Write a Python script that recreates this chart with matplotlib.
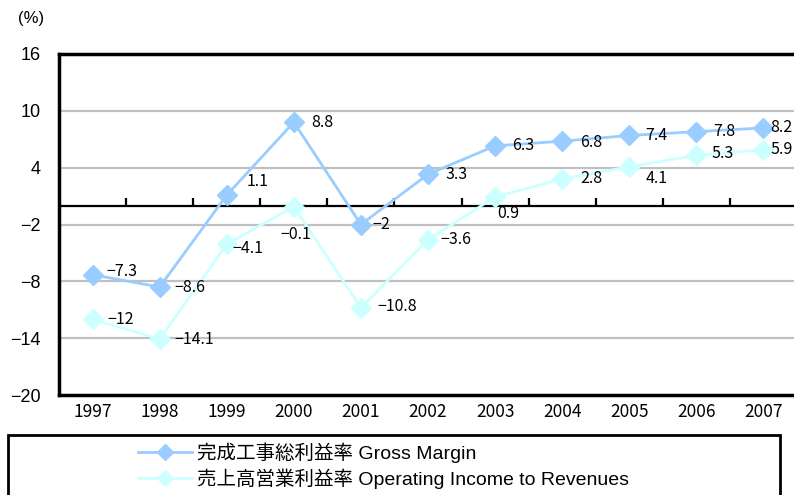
import matplotlib
matplotlib.use("Agg")
import matplotlib.pyplot as plt
from matplotlib.patches import Rectangle
from matplotlib.lines import Line2D

years = ["1997", "1998", "1999", "2000", "2001", "2002", "2003", "2004", "2005", "2006", "2007"]
gross_margin = [-7.3, -8.6, 1.1, 8.8, -2, 3.3, 6.3, 6.8, 7.4, 7.8, 8.2]
operating_income = [-12, -14.1, -4.1, -0.1, -10.8, -3.6, 0.9, 2.8, 4.1, 5.3, 5.9]
gross_label = "完成工事総利益率 Gross Margin"
op_label = "売上高営業利益率 Operating Income to Revenues"
yticks = [16, 10, 4, -2, -8, -14, -20]

# label offsets in pixels (dx right, dy up)
gross_off = [(14, 3), (15, 0), (20, 14), (17, 0), (11, 0), (17, 0), (17, 0), (18, -1), (16, 0), (17, 0), (7, 0)]
op_off = [(15, 0), (15, 0), (6, -4), (-13, -28), (16, 1), (12, 0), (2, -16), (18, 1), (16, -12), (15, 2), (7, 0)]

plt.rcParams['font.family'] = ['Liberation Sans', 'Noto Sans CJK JP', 'DejaVu Sans']
gothic = ['Noto Sans CJK JP', 'DejaVu Sans']

fig = plt.figure(figsize=(7.94, 4.95), dpi=100)
ax = fig.add_axes([59 / 794, 1 - 395 / 495, 738 / 794, 341 / 495])

x = list(range(len(years)))
ax.set_xlim(-0.5, len(years) - 0.5)
ax.set_ylim(-20, 16)

for v in [10, 4, -2, -8, -14]:
    ax.axhline(v, color="#c0c0c0", lw=1.6, zorder=1)
ax.axhline(0, color="black", lw=1.6, zorder=2)
for b in range(len(years) - 1):
    ax.plot([b + 0.5, b + 0.5], [0, 0.75], color="black", lw=1.6, zorder=2, solid_capstyle="butt")

ax.plot(x, gross_margin, color="#99ccff", lw=2, marker="D", ms=10, mec="#99ccff", zorder=4)
ax.plot(x, operating_income, color="#ccffff", lw=2, marker="D", ms=10, mec="#ccffff", zorder=3)

for xi, v, (dx, dy) in zip(x, gross_margin, gross_off):
    ax.annotate(f"{v:g}".replace("-", "−"), (xi, v), xytext=(dx, dy), textcoords="offset pixels",
                ha="left", va="center", fontsize=11.5, family=gothic, zorder=5)
for xi, v, (dx, dy) in zip(x, operating_income, op_off):
    ax.annotate(f"{v:g}".replace("-", "−"), (xi, v), xytext=(dx, dy), textcoords="offset pixels",
                ha="left", va="center", fontsize=11.5, family=gothic, zorder=5)

ax.set_yticks(yticks)
ax.set_yticklabels([f"{t}".replace("-", "−") for t in yticks], fontsize=13)
ax.set_xticks(x)
ax.set_xticklabels(years, fontsize=12.5, family=gothic)
ax.tick_params(axis="x", length=0, pad=6)
ax.tick_params(axis="y", length=0, pad=13)

for s in ["left", "top", "bottom"]:
    ax.spines[s].set_linewidth(2.5)
ax.spines["right"].set_visible(False)

fig.text(31 / 794, 1 - 18 / 495, "(%)", ha="center", va="center", fontsize=12)

# legend box running off the bottom of the figure
fig.patches.append(Rectangle((8 / 794, -0.05), 772 / 794, 0.05 + 1 - 435 / 495,
                             transform=fig.transFigure, fill=False, ec="black", lw=2))
handles = [Line2D([], [], color="#99ccff", lw=2, marker="D", ms=8),
           Line2D([], [], color="#ccffff", lw=2, marker="D", ms=8)]
fig.legend(handles, [gross_label, op_label], loc="upper left",
           bbox_to_anchor=(138 / 794, 1 - 442 / 495), frameon=False, numpoints=1,
           handlelength=2.8, handletextpad=0.25, labelspacing=0.32, borderpad=0, borderaxespad=0,
           prop={"family": ['Liberation Sans', 'Noto Sans CJK JP'], "size": 14})

fig.savefig("out.png", dpi=100)
